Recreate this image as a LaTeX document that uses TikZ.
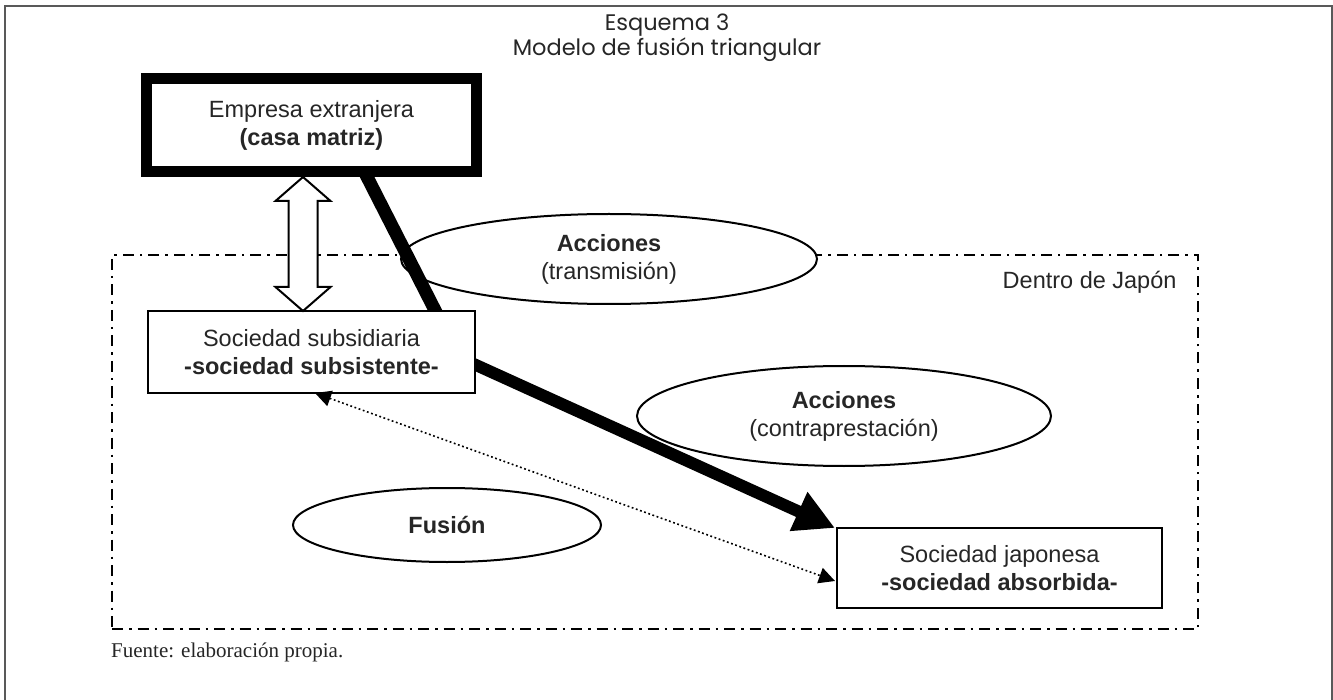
\documentclass[tikz,border=0pt]{standalone}
\usepackage{fontspec}
\setmainfont{Liberation Sans}
\newfontfamily\titlefont{Poppins}
\newfontfamily\seriffont{Liberation Serif}
\usetikzlibrary{arrows.meta,shapes.geometric,calc}
\begin{document}
\begin{tikzpicture}[x=1pt,y=-1pt,
  txt/.style={font=\fontsize{23.5}{28}\selectfont, text=black!85, align=center},
  boxed/.style={txt, draw, line width=2.5pt, fill=white, inner sep=0pt},
  oval/.style={txt, ellipse, draw, line width=2pt, fill=white, inner sep=0pt},
  heavy/.style={line width=13pt, line cap=butt},
  hollow/.style={draw, fill=white, line width=2pt, line join=miter},
  dotline/.style={line width=1.6pt, dash pattern=on 1.8pt off 2.6pt},
  zone/.style={draw, line width=2.5pt, dash pattern=on 11pt off 6pt on 2.5pt off 6pt, minimum width=1086, minimum height=374, inner sep=0pt},
  frame/.style={draw=black!65, line width=2pt}
]
\useasboundingbox (0,0) rectangle (1333,700);
\fill[white] (0,0) rectangle (1333,700);

% outer frame
\coordinate (fbl) at (5,700);
\coordinate (ftl) at (5,6);
\coordinate (ftr) at (1332,6);
\coordinate (fbr) at (1332,700);
\draw[frame] (fbl) -- (ftl) -- (ftr) -- (fbr);

% title
\node[font=\titlefont\fontsize{22.5}{24.5}\selectfont, text=black!85, align=center] (title) at (667,38) {Esquema 3\\Modelo de fusión triangular};

% zone (Japan)
\node[zone] (japanzone) at (655,442) {};
\node[txt, anchor=east] (dentro) at (1180,282) {Dentro de Japón};

% ellipses
\node[oval, minimum width=416, minimum height=90] (trans) at (609,259) {\textbf{Acciones}\\(transmisión)};
\node[oval, minimum width=414, minimum height=100] (contra) at (844,416) {\textbf{Acciones}\\(contraprestación)};
\node[oval, minimum width=308, minimum height=74] (fus) at (447,525) {\textbf{Fusión}};

% heavy connectors
\coordinate (l1a) at (361.5,166);
\coordinate (l1b) at (441,322);
\draw[heavy] (l1a) -- (l1b);
\coordinate (l2a) at (466,360.5);
\coordinate (l2b) at (835,528);
\draw[heavy, line width=12pt, -{Triangle[length=40pt,width=40pt]}] (l2a) -- (l2b);

% boxes
\node[txt, draw, line width=8pt, fill=white, minimum width=333, minimum height=96, inner sep=0pt] (emp) at (311.5,125) {Empresa extranjera\\\textbf{(casa matriz)}};
\draw[line width=2.5pt] ($(emp.north west)+(9.5,9.5)$) rectangle ($(emp.south east)+(-9.5,-9.5)$);
\node[boxed, minimum width=327, minimum height=82] (sub) at (311.5,352) {Sociedad subsidiaria\\\textbf{-sociedad subsistente-}};
\node[boxed, minimum width=325, minimum height=80] (jap) at (999.5,568) {Sociedad japonesa\\\textbf{-sociedad absorbida-}};

% double hollow arrow
\coordinate (dtop) at (303,177);
\coordinate (dbot) at (303,311);
\draw[hollow] (dtop) -- ++(27.5,24) -- ++(-13,0) -- ($(dbot)+(14.5,-24)$) -- ++(13,0) -- (dbot)
  -- ++(-27.5,-24) -- ++(13,0) -- ($(dtop)+(-14.5,24)$) -- ++(-13,0) -- cycle;

% dotted double arrow
\coordinate (d1) at (315,393);
\coordinate (d2) at (835,581);
\draw[dotline, {Triangle[length=16pt,width=16pt]}-{Triangle[length=16pt,width=16pt]}] (d1) -- (d2);

% source
\node[font=\seriffont\fontsize{21}{24}\selectfont, text=black!85, anchor=base west, inner sep=0pt] (src) at (111,657) {Fuente: elaboración propia.};
\end{tikzpicture}
\end{document}
